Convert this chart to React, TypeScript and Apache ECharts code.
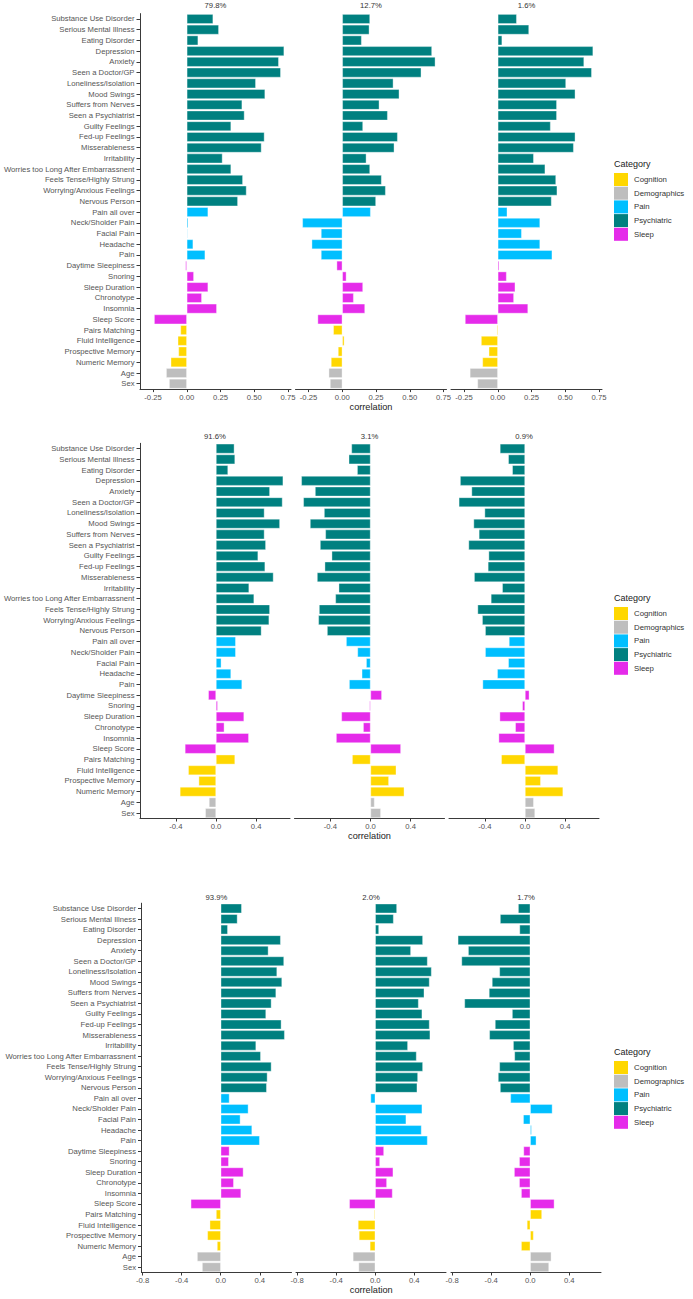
import React, { useEffect, useRef } from "react";
import * as echarts from "echarts";

const CATEGORIES = [
  "Substance Use Disorder", "Serious Mental Illness", "Eating Disorder", "Depression", "Anxiety",
  "Seen a Doctor/GP", "Loneliness/Isolation", "Mood Swings", "Suffers from Nerves", "Seen a Psychiatrist",
  "Guilty Feelings", "Fed-up Feelings", "Misserableness", "Irritability", "Worries too Long After Embarrassnent",
  "Feels Tense/Highly Strung", "Worrying/Anxious Feelings", "Nervous Person", "Pain all over", "Neck/Sholder Pain",
  "Facial Pain", "Headache", "Pain", "Daytime Sleepiness", "Snoring", "Sleep Duration", "Chronotype", "Insomnia",
  "Sleep Score", "Pairs Matching", "Fluid Intelligence", "Prospective Memory", "Numeric Memory", "Age", "Sex",
];

const GROUPS = [
  ...Array(18).fill("Psychiatric"),
  ...Array(5).fill("Pain"),
  ...Array(6).fill("Sleep"),
  ...Array(4).fill("Cognition"),
  ...Array(2).fill("Demographics"),
];

const LEGEND_ITEMS = ["Cognition", "Demographics", "Pain", "Psychiatric", "Sleep"];
const LEGEND_COLORS = ["#FFD700", "#BEBEBE", "#00BFFF", "#008080", "#E52BEA"];

const PANEL1_FACET1 = [0.195, 0.237, 0.084, 0.721, 0.681, 0.696, 0.511, 0.58, 0.41, 0.427, 0.328, 0.575, 0.553, 0.264, 0.328, 0.415, 0.442, 0.378, 0.158, 0.01, 0.005, 0.047, 0.136, -0.01, 0.052, 0.158, 0.111, 0.222, -0.242, -0.047, -0.067, -0.062, -0.119, -0.153, -0.131];
const PANEL1_FACET2 = [0.205, 0.2, 0.143, 0.664, 0.689, 0.585, 0.378, 0.422, 0.274, 0.336, 0.153, 0.41, 0.385, 0.178, 0.205, 0.291, 0.321, 0.249, 0.21, -0.296, -0.158, -0.227, -0.158, -0.042, 0.03, 0.153, 0.084, 0.168, -0.183, -0.067, 0.015, -0.032, -0.084, -0.101, -0.091];
const PANEL1_FACET3 = [0.14, 0.231, 0.032, 0.706, 0.639, 0.696, 0.505, 0.574, 0.437, 0.437, 0.391, 0.574, 0.562, 0.266, 0.351, 0.431, 0.44, 0.398, 0.07, 0.313, 0.177, 0.313, 0.403, 0.01, 0.065, 0.129, 0.119, 0.224, -0.243, -0.008, -0.124, -0.067, -0.114, -0.207, -0.151];

const PANEL2_FACET1 = [0.183, 0.19, 0.12, 0.67, 0.537, 0.663, 0.483, 0.637, 0.483, 0.497, 0.42, 0.49, 0.573, 0.33, 0.38, 0.537, 0.53, 0.453, 0.197, 0.197, 0.053, 0.15, 0.26, -0.077, 0.017, 0.28, 0.083, 0.327, -0.31, 0.19, -0.277, -0.173, -0.36, -0.07, -0.107];
const PANEL2_FACET2 = [-0.19, -0.217, -0.133, -0.69, -0.553, -0.67, -0.463, -0.603, -0.45, -0.503, -0.387, -0.457, -0.533, -0.317, -0.35, -0.513, -0.52, -0.433, -0.243, -0.13, -0.043, -0.087, -0.213, 0.113, -0.01, -0.29, -0.073, -0.343, 0.303, -0.183, 0.257, 0.183, 0.337, 0.04, 0.103];
const PANEL2_FACET3 = [-0.25, -0.167, -0.127, -0.647, -0.533, -0.66, -0.403, -0.513, -0.46, -0.563, -0.363, -0.37, -0.507, -0.227, -0.34, -0.473, -0.427, -0.397, -0.16, -0.397, -0.167, -0.277, -0.423, 0.043, -0.027, -0.253, -0.097, -0.263, 0.293, -0.237, 0.33, 0.157, 0.38, 0.087, 0.1];

const PANEL3_FACET1 = [0.215, 0.171, 0.072, 0.614, 0.488, 0.648, 0.577, 0.628, 0.567, 0.519, 0.464, 0.621, 0.655, 0.362, 0.41, 0.519, 0.478, 0.471, 0.089, 0.283, 0.201, 0.321, 0.399, 0.089, 0.082, 0.232, 0.133, 0.208, -0.307, -0.048, -0.113, -0.137, -0.038, -0.242, -0.191];
const PANEL3_FACET2 = [0.222, 0.188, 0.038, 0.488, 0.365, 0.536, 0.577, 0.556, 0.502, 0.444, 0.481, 0.556, 0.563, 0.334, 0.423, 0.488, 0.437, 0.43, -0.048, 0.481, 0.317, 0.474, 0.536, 0.089, 0.048, 0.184, 0.119, 0.177, -0.266, -0.01, -0.177, -0.167, -0.055, -0.229, -0.171];
const PANEL3_FACET3 = [-0.124, -0.309, -0.11, -0.742, -0.636, -0.704, -0.316, -0.392, -0.423, -0.674, -0.186, -0.361, -0.419, -0.175, -0.162, -0.316, -0.33, -0.309, -0.203, 0.227, -0.072, 0.014, 0.062, -0.069, -0.113, -0.165, -0.113, -0.093, 0.247, 0.12, -0.034, 0.034, -0.093, 0.216, 0.192];

const PANEL1_TITLES = ["79.8%", "12.7%", "1.6%"];
const PANEL2_TITLES = ["91.6%", "3.1%", "0.9%"];
const PANEL3_TITLES = ["93.9%", "2.0%", "1.7%"];

const PANEL1_TICKS = [-0.25, 0, 0.25, 0.5, 0.75];
const PANEL2_TICKS = [-0.4, 0, 0.4];
const PANEL3_TICKS = [-0.8, -0.4, 0, 0.4];

const FONT = "'Liberation Sans', Arial, sans-serif";
const AXIS_COLOR = "#3a3a3a";
const LABEL_COLOR = "#555555";

const PANELS = [
  { data: [PANEL1_FACET1, PANEL1_FACET2, PANEL1_FACET3], titles: PANEL1_TITLES, ticks: PANEL1_TICKS, decimals: 2,
    top: 13.6, height: 375.5, lefts: [140, 295.5, 451], width: 151, titleY: 5.5, xLabelY: 407, legendTop: 164 },
  { data: [PANEL2_FACET1, PANEL2_FACET2, PANEL2_FACET3], titles: PANEL2_TITLES, ticks: PANEL2_TICKS, decimals: 1,
    top: 443.3, height: 375.2, lefts: [140, 294.5, 449], width: 150, titleY: 436, xLabelY: 836, legendTop: 598 },
  { data: [PANEL3_FACET1, PANEL3_FACET2, PANEL3_FACET3], titles: PANEL3_TITLES, ticks: PANEL3_TICKS, decimals: 1,
    top: 903.2, height: 369.3, lefts: [141.5, 296, 451], width: 150, titleY: 897, xLabelY: 1290, legendTop: 1052 },
];

function colorOf(group: string) {
  return LEGEND_COLORS[LEGEND_ITEMS.indexOf(group)];
}

export default function App() {
  const ref = useRef<HTMLDivElement>(null);

  useEffect(() => {
    document.body.style.margin = "0";
    const chart = echarts.init(ref.current as HTMLDivElement, null, { renderer: "svg" });

    const grid: any[] = [];
    const xAxis: any[] = [];
    const yAxis: any[] = [];
    const series: any[] = [];
    const graphic: any[] = [];

    PANELS.forEach((p) => {
      const all = p.data.flat();
      const mn = Math.min(...all);
      const mx = Math.max(...all);
      const pad = (mx - mn) * 0.05;
      const xmin = mn - pad;
      const xmax = mx + pad;

      p.data.forEach((vals, f) => {
        const idx = grid.length;
        grid.push({ left: p.lefts[f], top: p.top, width: p.width, height: p.height, containLabel: false });
        xAxis.push({
          type: "value",
          gridIndex: idx,
          min: xmin,
          max: xmax,
          axisLine: { show: true, lineStyle: { color: AXIS_COLOR, width: 1 } },
          axisTick: { show: true, length: 3, customValues: p.ticks, lineStyle: { color: AXIS_COLOR } },
          axisLabel: {
            show: true,
            customValues: p.ticks,
            margin: 4,
            fontSize: 7.7,
            color: LABEL_COLOR,
            fontFamily: FONT,
            formatter: (v: number) => v.toFixed(p.decimals),
          },
          splitLine: { show: false },
        });
        yAxis.push({
          type: "category",
          gridIndex: idx,
          data: CATEGORIES,
          inverse: true,
          show: f === 0,
          axisLine: { show: f === 0, onZero: false, lineStyle: { color: AXIS_COLOR, width: 1 } },
          axisTick: { show: f === 0, alignWithLabel: true, length: 3.5, interval: 0, lineStyle: { color: AXIS_COLOR } },
          axisLabel: {
            show: f === 0,
            interval: 0,
            margin: 5.5,
            fontSize: 7.7,
            color: LABEL_COLOR,
            fontFamily: FONT,
          },
          splitLine: { show: false },
        });
        series.push({
          type: "bar",
          xAxisIndex: idx,
          yAxisIndex: idx,
          barCategoryGap: "10%",
          silent: true,
          data: vals.map((v, j) => ({
            value: v,
            itemStyle: { color: colorOf(GROUPS[j]), borderColor: "rgba(255,255,255,0.75)", borderWidth: 0.5 },
          })),
        });
        graphic.push({
          type: "text",
          x: p.lefts[f] + p.width / 2,
          y: p.titleY,
          style: { text: p.titles[f], fontSize: 7.7, fontFamily: FONT, fill: "#333", align: "center", verticalAlign: "middle" },
        });
      });

      graphic.push({
        type: "text",
        x: (p.lefts[0] + p.lefts[2] + p.width) / 2,
        y: p.xLabelY,
        style: { text: "correlation", fontSize: 9.2, fontFamily: FONT, fill: "#222", align: "center", verticalAlign: "middle" },
      });

      graphic.push({
        type: "text",
        x: 614,
        y: p.legendTop,
        style: { text: "Category", fontSize: 9, fontFamily: FONT, fill: "#222", align: "left", verticalAlign: "middle" },
      });
      LEGEND_ITEMS.forEach((name, i) => {
        const cy = p.legendTop + 15.5 + i * 13.7;
        graphic.push({
          type: "rect",
          shape: { x: 614, y: cy - 6.5, width: 14, height: 13 },
          style: { fill: LEGEND_COLORS[i] },
        });
        graphic.push({
          type: "text",
          x: 634,
          y: cy,
          style: { text: name, fontSize: 7.8, fontFamily: FONT, fill: "#333", align: "left", verticalAlign: "middle" },
        });
      });
    });

    chart.setOption({
      animation: false,
      backgroundColor: "#ffffff",
      grid,
      xAxis,
      yAxis,
      series,
      graphic,
    });

    return () => chart.dispose();
  }, []);

  return <div ref={ref} style={{ width: 693, height: 1299 }} />;
}
